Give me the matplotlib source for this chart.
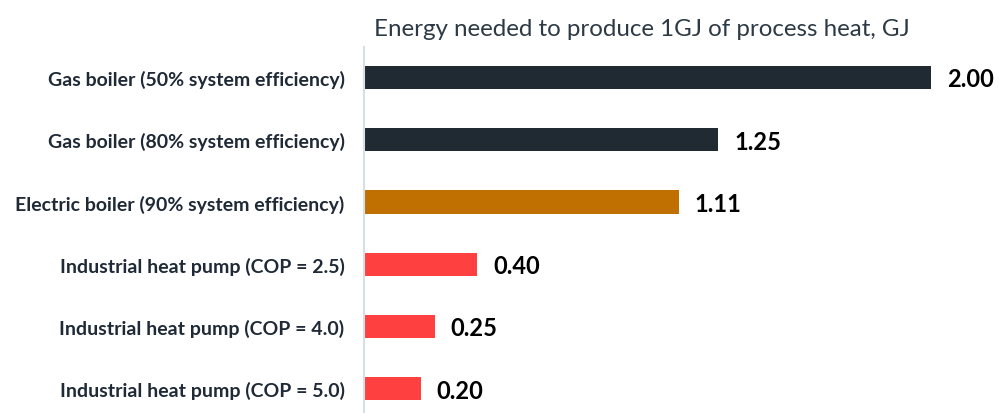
import matplotlib
matplotlib.use("Agg")
import matplotlib.pyplot as plt

# data
technologies = [
    "Gas boiler (50% system efficiency)",
    "Gas boiler (80% system efficiency)",
    "Electric boiler (90% system efficiency)",
    "Industrial heat pump (COP = 2.5)",
    "Industrial heat pump (COP = 4.0)",
    "Industrial heat pump (COP = 5.0)",
]
energy_gj = [2.00, 1.25, 1.11, 0.40, 0.25, 0.20]
bar_colors = ["#1f2a33", "#1f2a33", "#c07000", "#ff4040", "#ff4040", "#ff4040"]

plt.rcParams["font.family"] = ["Lato", "DejaVu Sans"]

W, H = 999, 414
fig = plt.figure(figsize=(W / 100, H / 100), dpi=100)
# axes placed in pixel terms: left edge at the grey axis line
ax = fig.add_axes([364 / W, 0, (W - 364) / W, (H - 48) / H])

positions = list(range(len(technologies)))
ax.barh(positions, energy_gj, height=0.37, color=bar_colors)

ax.set_xlim(0, 2.24)
ax.set_ylim(5.39, -0.49)

# value labels to the right of each bar
for pos, val in zip(positions, energy_gj):
    ax.annotate(f"{val:.2f}", xy=(val, pos), xytext=(11.5, -1), textcoords="offset points",
                ha="left", va="center", fontsize=17, fontweight="bold", color="black")

ax.set_yticks(positions)
ax.set_yticklabels(technologies, fontsize=14, fontweight="bold", color="#1f2a36")
ax.tick_params(axis="y", length=0, pad=14)
ax.set_xticks([])

for side in ["top", "right", "bottom"]:
    ax.spines[side].set_visible(False)
ax.spines["left"].set_color("#d8dee6")
ax.spines["left"].set_linewidth(1.5)

fig.text(642 / W, 1 - 30 / H, "Energy needed to produce 1GJ of process heat, GJ",
         ha="center", va="center", fontsize=17.4, color="#2d3a45")

fig.savefig("out.png", dpi=100)
